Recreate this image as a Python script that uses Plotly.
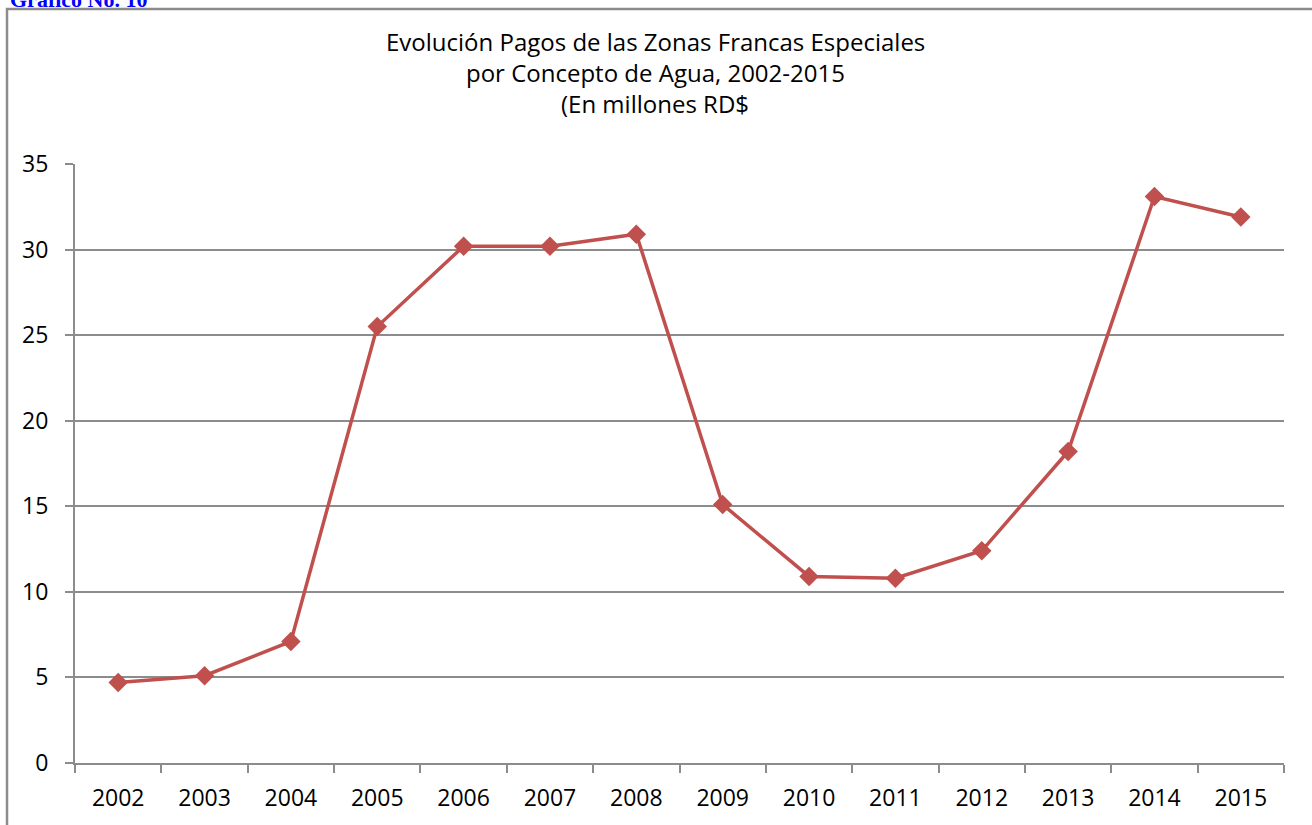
import plotly.graph_objects as go

years = ["2002", "2003", "2004", "2005", "2006", "2007", "2008",
         "2009", "2010", "2011", "2012", "2013", "2014", "2015"]
pagos_agua = [4.7, 5.1, 7.1, 25.5, 30.2, 30.2, 30.9,
              15.1, 10.9, 10.8, 12.4, 18.2, 33.1, 31.9]
y_ticks = [0, 5, 10, 15, 20, 25, 30, 35]
title_lines = ["Evolución Pagos de las Zonas Francas Especiales",
               "por Concepto de Agua, 2002-2015",
               "(En millones RD$"]

W, H = 1312, 825
L, R, T, B = 75, 28, 164, 62
pw, ph = W - L - R, H - T - B

def px_x(p):
    return (p - L) / pw

def px_y(p):
    return (H - B - p) / ph

fig = go.Figure()
fig.add_trace(go.Scatter(
    x=years, y=pagos_agua, mode="lines+markers",
    line=dict(color="#C0504D", width=3.5),
    marker=dict(symbol="diamond", size=15, color="#C0504D"),
    showlegend=False, cliponaxis=False,
))

font = "'Open Sans', Lato, sans-serif"
fig.update_layout(
    width=W, height=H,
    margin=dict(l=L, r=R, t=T, b=B),
    paper_bgcolor="white", plot_bgcolor="white",
    font=dict(family=font, size=23, color="black"),
    xaxis=dict(
        type="category", range=[-0.5, 13.5],
        showgrid=False, showline=True, linecolor="#8C8C8C", linewidth=2,
        ticks="outside", tickson="boundaries", ticklen=8, tickwidth=2,
        tickcolor="#8C8C8C", tickfont=dict(size=23), fixedrange=True,
        ticklabelstandoff=13,
    ),
    yaxis=dict(
        range=[0, 35], tickvals=y_ticks,
        showgrid=True, gridcolor="#8C8C8C", gridwidth=2,
        showline=True, linecolor="#8C8C8C", linewidth=2,
        ticks="outside", ticklen=8, tickwidth=2, tickcolor="#8C8C8C",
        tickfont=dict(size=23), zeroline=False, fixedrange=True,
        ticklabelstandoff=12,
    ),
)

fig.add_shape(type="rect", xref="paper", yref="paper",
              x0=px_x(7), x1=px_x(1330), y0=px_y(9), y1=px_y(860),
              line=dict(color="#8C8C8C", width=2.5), layer="below")

for i, line in enumerate(title_lines):
    fig.add_annotation(
        xref="paper", yref="paper", x=px_x(655), y=px_y(42 + 31 * i),
        text=line, showarrow=False, xanchor="center", yanchor="middle",
        font=dict(family=font, size=24, color="black"),
    )

fig.add_annotation(
    xref="paper", yref="paper", x=px_x(8), y=px_y(14),
    text="<b>Gráfico No. 10</b>", showarrow=False,
    xanchor="left", yanchor="bottom",
    font=dict(family="'Liberation Serif', 'Times New Roman', serif", size=22, color="#0000FF"),
)

fig.write_html("out.html", config={"displayModeBar": False},
               post_script="document.body.style.margin='0';")
